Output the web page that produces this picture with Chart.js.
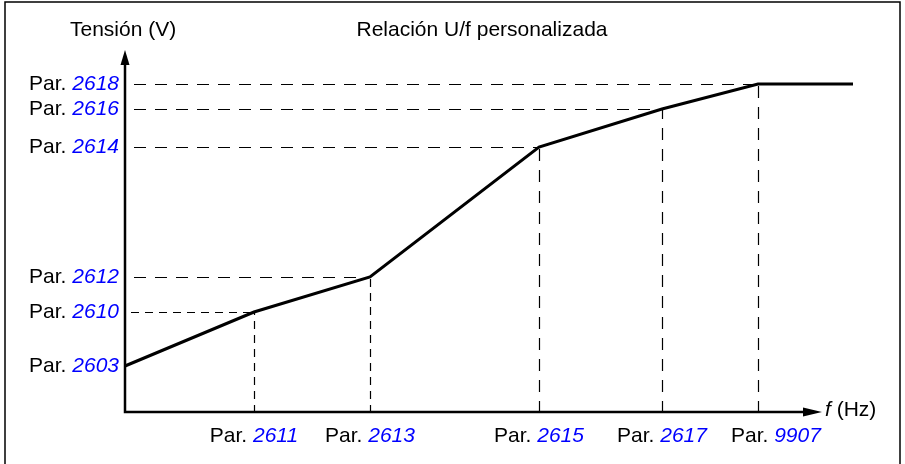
<!DOCTYPE html>
<html>
<head>
<meta charset="utf-8">
<title>Relación U/f personalizada</title>
<script src="https://cdn.jsdelivr.net/npm/chart.js@4"></script>
<style>
    body { margin: 0; background: #fff; }
    canvas { display: block; }
</style>
</head>
<body>
<canvas id="ufChart" width="905" height="464"></canvas>
<script>
// U/f curve breakpoints (frequency, voltage) in chart units
const freq = [0, 12.9, 24.5, 41.4, 53.7, 63.3, 72.8];
const volt = [4.6, 10.0, 13.5, 26.5, 30.3, 32.8, 32.8];

// Parameter numbers shown on the axes
const voltParams = ['2603', '2610', '2612', '2614', '2616', '2618'];
const freqParams = ['2611', '2613', '2615', '2617', '9907'];

const FONT = '"Liberation Sans", Arial, sans-serif';
const SIZE = '21px ';
const BLUE = '#0000ff';
const SHORT_DASH = [8, 6];
const LONG_DASH = [12, 9];
const LABEL_GAP = 24;

function paramWidth(ctx, num) {
    ctx.font = SIZE + FONT;
    const wPre = ctx.measureText('Par. ').width;
    ctx.font = 'italic ' + SIZE + FONT;
    return { pre: wPre, total: wPre + ctx.measureText(num).width };
}

// Draw "Par. NNNN" with the number in blue italics, starting at x
function drawParam(ctx, num, start, y) {
    const w = paramWidth(ctx, num);
    ctx.textAlign = 'left';
    ctx.textBaseline = 'middle';
    ctx.font = SIZE + FONT;
    ctx.fillStyle = '#000';
    ctx.fillText('Par. ', start, y);
    ctx.font = 'italic ' + SIZE + FONT;
    ctx.fillStyle = BLUE;
    ctx.fillText(num, start + w.pre, y);
}

const diagramPlugin = {
    id: 'diagram',
    beforeDraw(chart) {
        const ctx = chart.ctx;
        ctx.save();
        ctx.fillStyle = '#fff';
        ctx.fillRect(0, 0, chart.width, chart.height);
        // frame
        ctx.strokeStyle = '#000';
        ctx.lineWidth = 1.5;
        ctx.strokeRect(5, 2, 895, chart.height + 10);
        ctx.restore();
    },
    beforeDatasetsDraw(chart) {
        const ctx = chart.ctx;
        const xs = chart.scales.x;
        const ys = chart.scales.y;
        const x0 = xs.getPixelForValue(0);
        const y0 = ys.getPixelForValue(0);

        ctx.save();
        ctx.strokeStyle = '#000';
        ctx.lineWidth = 1.2;

        // horizontal guides to the voltage breakpoints
        voltParams.forEach((p, i) => {
            const px = xs.getPixelForValue(freq[i]);
            const py = Math.round(ys.getPixelForValue(volt[i])) + 0.5;
            if (px - x0 < 5) return;
            const dash = px - x0 < 200 ? SHORT_DASH : LONG_DASH;
            ctx.setLineDash(dash);
            ctx.lineDashOffset = dash[0];
            ctx.beginPath();
            ctx.moveTo(x0, py);
            ctx.lineTo(px, py);
            ctx.stroke();
        });

        // vertical guides down to the frequency axis
        freqParams.forEach((p, i) => {
            const px = Math.round(xs.getPixelForValue(freq[i + 1])) + 0.5;
            const py = ys.getPixelForValue(volt[i + 1]);
            ctx.setLineDash(y0 - py < 200 ? SHORT_DASH : LONG_DASH);
            ctx.lineDashOffset = 0;
            ctx.beginPath();
            ctx.moveTo(px, y0 + 1);
            ctx.lineTo(px, py);
            ctx.stroke();
        });
        ctx.setLineDash([]);

        // axes with arrow heads
        ctx.lineWidth = 2.5;
        ctx.beginPath();
        ctx.moveTo(x0, y0);
        ctx.lineTo(x0, 62);
        ctx.moveTo(x0 - 1.25, y0);
        ctx.lineTo(805, y0);
        ctx.stroke();

        ctx.fillStyle = '#000';
        ctx.beginPath();
        ctx.moveTo(x0, 50);
        ctx.lineTo(x0 + 4.5, 65);
        ctx.lineTo(x0 - 4.5, 65);
        ctx.closePath();
        ctx.fill();

        ctx.beginPath();
        ctx.moveTo(822, y0);
        ctx.lineTo(803, y0 - 4.5);
        ctx.lineTo(803, y0 + 4.5);
        ctx.closePath();
        ctx.fill();
        ctx.restore();
    },
    afterDraw(chart) {
        const ctx = chart.ctx;
        const xs = chart.scales.x;
        const ys = chart.scales.y;
        ctx.save();

        voltParams.forEach((p, i) => {
            const w = paramWidth(ctx, p);
            drawParam(ctx, p, 119 - w.total, ys.getPixelForValue(volt[i]));
        });

        // centred under each guide, nudged right when it would crowd the previous one
        let prevEnd = -Infinity;
        freqParams.forEach((p, i) => {
            const w = paramWidth(ctx, p);
            let start = xs.getPixelForValue(freq[i + 1]) - w.total / 2;
            start = Math.max(start, prevEnd + LABEL_GAP);
            drawParam(ctx, p, start, 436);
            prevEnd = start + w.total;
        });

        ctx.fillStyle = '#000';
        ctx.textBaseline = 'middle';
        ctx.font = SIZE + FONT;
        ctx.textAlign = 'left';
        ctx.fillText('Tensión (V)', 70, 30);
        ctx.textAlign = 'center';
        ctx.fillText('Relación U/f personalizada', 482, 30);

        // frequency axis title
        ctx.textAlign = 'left';
        ctx.font = 'italic ' + SIZE + FONT;
        ctx.fillText('f', 825, 410);
        const wf = ctx.measureText('f').width;
        ctx.font = SIZE + FONT;
        ctx.fillText(' (Hz)', 825 + wf, 410);
        ctx.restore();
    }
};

function createChart() {
    const ctx = document.getElementById('ufChart').getContext('2d');
    new Chart(ctx, {
        type: 'line',
        data: {
            datasets: [{
                data: freq.map((f, i) => ({ x: f, y: volt[i] })),
                borderColor: '#000',
                borderWidth: 3,
                pointRadius: 0,
                tension: 0,
                fill: false,
                clip: false
            }]
        },
        options: {
            responsive: false,
            animation: false,
            layout: {
                padding: { left: 125, right: 52, top: 50, bottom: 52 }
            },
            plugins: {
                legend: { display: false },
                tooltip: { enabled: false }
            },
            scales: {
                x: { type: 'linear', min: 0, max: 72.8, display: false },
                y: { type: 'linear', min: 0, max: 36.2, display: false }
            }
        },
        plugins: [diagramPlugin]
    });
}

document.addEventListener('DOMContentLoaded', createChart);
</script>
</body>
</html>
